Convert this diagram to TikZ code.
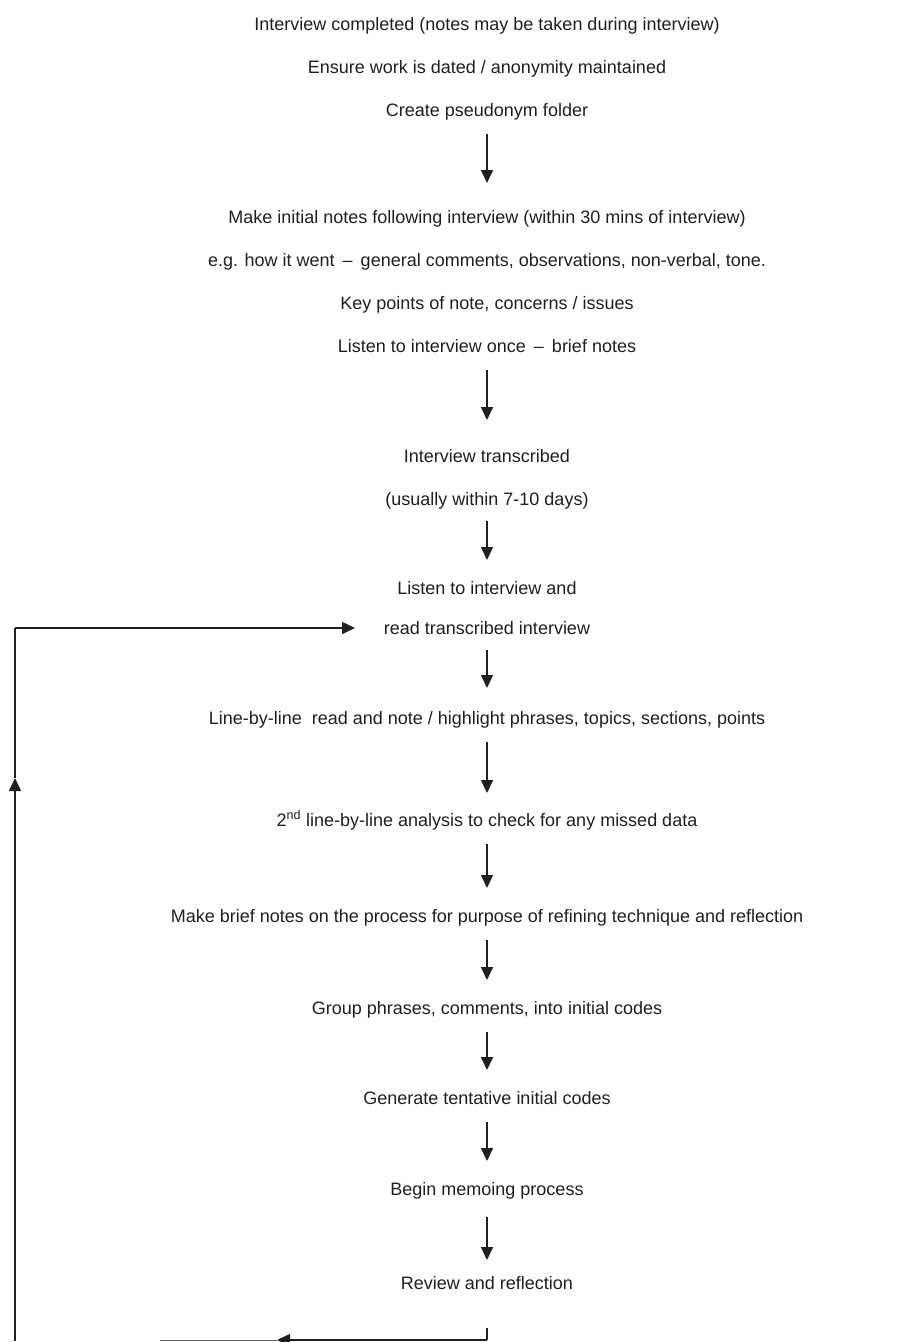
\documentclass[tikz,border=0pt]{standalone}
\usepackage{fontspec}
\setmainfont{Liberation Sans}
\usetikzlibrary{arrows.meta}

\begin{document}
\begin{tikzpicture}[x=1pt,y=1pt,
  txt/.style={anchor=base,inner sep=0pt,font=\fontsize{18}{21}\selectfont,text=black!88},
  flow/.style={line width=1.6pt,draw=black!88,-{Triangle[width=12pt,length=13pt]}},
  back/.style={line width=1.6pt,draw=black!88}]
\path[use as bounding box] (0,0) rectangle (898,-1342);
% text lines, top to bottom
\node[txt] (done) at (487,-30) {Interview completed (notes may be taken during interview)};
\node[txt] (dated) at (487,-73) {Ensure work is dated / anonymity maintained};
\node[txt] (folder) at (487,-116) {Create pseudonym folder};
\node[txt] (initial) at (487,-223) {Make initial notes following interview (within 30 mins of interview)};
\node[txt] (howwent) at (487,-266) {e.g. how it went \,--\, general comments, observations, non-verbal, tone.};
\node[txt] (keypts) at (487,-309) {Key points of note, concerns / issues};
\node[txt] (once) at (487,-352) {Listen to interview once \,--\, brief notes};
\node[txt] (transcr) at (487,-462) {Interview transcribed};
\node[txt] (usually) at (487,-505) {(usually within 7-10 days)};
\node[txt] (listen) at (487,-594) {Listen to interview and};
\node[txt] (readtr) at (487,-634) {read transcribed interview};
\node[txt] (linebyline) at (487,-724) {Line-by-line\ \ read and note / highlight phrases, topics, sections, points};
\node[txt] (second) at (487,-826) {2\textsuperscript{nd} line-by-line analysis to check for any missed data};
\node[txt] (brief) at (487,-922) {Make brief notes on the process for purpose of refining technique and reflection};
\node[txt] (group) at (487,-1014) {Group phrases, comments, into initial codes};
\node[txt] (tentative) at (487,-1104) {Generate tentative initial codes};
\node[txt] (memo) at (487,-1195) {Begin memoing process};
\node[txt] (review) at (487,-1289) {Review and reflection};

% downward arrows
\draw[flow] ([yshift=-18pt]folder.base) -- ([yshift=40pt]initial.base);
\draw[flow] ([yshift=-18pt]once.base) -- ([yshift=42pt]transcr.base);
\draw[flow] ([yshift=-16pt]usually.base) -- ([yshift=34pt]listen.base);
\draw[flow] ([yshift=-16pt]readtr.base) -- ([yshift=36pt]linebyline.base);
\draw[flow] ([yshift=-18pt]linebyline.base) -- ([yshift=33pt]second.base);
\draw[flow] ([yshift=-18pt]second.base) -- ([yshift=34pt]brief.base);
\draw[flow] ([yshift=-18pt]brief.base) -- ([yshift=34pt]group.base);
\draw[flow] ([yshift=-18pt]group.base) -- ([yshift=34pt]tentative.base);
\draw[flow] ([yshift=-18pt]tentative.base) -- ([yshift=34pt]memo.base);
\draw[flow] ([yshift=-22pt]memo.base) -- ([yshift=29pt]review.base);

% feedback loop back to the transcript
\coordinate (cornerR) at (487,-1340);
\coordinate (tipB) at (277,-1340);
\coordinate (endB) at (160,-1340);
\coordinate (cornerL) at (15,-1341);
\coordinate (tipL) at (15,-778);
\coordinate (cornerT) at (15,-628);
\coordinate (tipT) at (355,-628);
\draw[back] ([yshift=-39pt]review.base) -- (cornerR);
\draw[flow] (cornerR) -- (tipB);
\draw[line width=.8pt,draw=black!60] (tipB) -- (endB);
\draw[flow] (cornerL) -- (tipL);
\draw[back] (tipL) -- (cornerT);
\draw[flow] (cornerT) -- (tipT);
\end{tikzpicture}
\end{document}
